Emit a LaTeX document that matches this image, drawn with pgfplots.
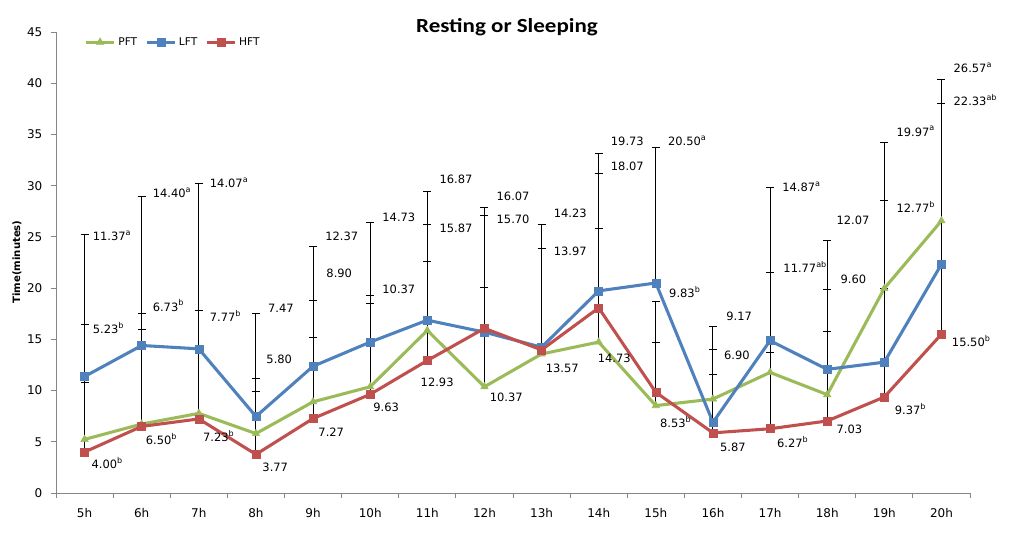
\documentclass[border=0pt]{standalone}
\usepackage{fontspec}
\setmainfont{DejaVu Sans}
\newfontfamily\titlefont{Carlito}
\usepackage{pgfplots}
\usepackage{pgfplotstable}
\pgfplotsset{compat=1.18}
\definecolor{pft}{HTML}{9BBB59}
\definecolor{lft}{HTML}{4F81BD}
\definecolor{hft}{HTML}{C0504D}
\definecolor{axgray}{HTML}{868686}
\tikzset{lab/.style={anchor=west, inner sep=0pt, font=\fontsize{8.6}{10}\selectfont}}

\pgfplotstableread{
x P Pe L Le H He
0 5.23 11.17 11.37 13.83 4.00 6.80
1 6.73 10.77 14.40 14.50 6.50 9.50
2 7.77 10.03 14.07 16.13 7.23 6.77
3 5.80 5.40 7.47 10.03 3.77 6.13
4 8.90 9.90 12.37 11.73 7.27 7.93
5 10.37 8.93 14.73 11.67 9.63 8.87
6 15.87 10.33 16.87 12.53 12.93 9.67
7 10.37 9.73 15.70 11.40 16.07 11.83
8 13.57 0.63 14.23 11.97 13.97 9.93
9 14.73 11.07 19.73 13.37 18.07 13.13
10 8.53 6.17 20.50 13.20 9.83 8.87
11 9.17 7.13 6.90 7.10 5.87 5.73
12 11.77 9.73 14.87 14.93 6.27 7.43
13 9.60 10.30 12.07 12.53 7.03 8.77
14 19.97 14.23 12.77 15.83 9.37 10.63
15 26.57 13.83 22.33 15.67 15.50 6.83
}\data

\begin{document}
\begin{tikzpicture}
\useasboundingbox (-42pt,-30.75pt) rectangle (718.5pt,369.75pt);
\begin{axis}[
  scale only axis, width=685.5pt, height=345.75pt,
  at={(0,0)}, anchor=south west,
  xmin=-0.5, xmax=15.5, ymin=0, ymax=45,
  axis x line*=bottom, axis y line*=left,
  axis line style={-, axgray, line width=0.7pt},
  every tick/.style={axgray, line width=0.7pt},
  tick align=outside, major tick length=3.75pt,
  xtick={-0.5,0.5,...,15.5},
  x tick label as interval,
  xticklabels={5h,6h,7h,8h,9h,10h,11h,12h,13h,14h,15h,16h,17h,18h,19h,20h},
  ytick={0,5,...,45},
  tick label style={font=\fontsize{9}{10}\selectfont},
  /pgf/number format/assume math mode=true,
  xticklabel style={yshift=-4pt},
  yticklabel style={xshift=-3pt},
  ylabel={Time(minutes)},
  ylabel style={font=\bfseries\fontsize{7.6}{9}\selectfont, at={(axis description cs:-0.0427,0.501)}, anchor=center},
  clip=false,
  legend style={at={(axis description cs:0.031,0.978)}, anchor=west, draw=none, fill=none,
    font=\fontsize{8}{9}\selectfont, inner sep=0pt,
    /tikz/every even column/.append style={column sep=4pt}},
  legend columns=3,
  legend image code/.code={\draw[mark repeat=2, mark phase=2] plot coordinates {(0pt,0pt)(10.5pt,0pt)(21pt,0pt)};},
  every axis plot/.append style={line width=2.3pt},
]
\addplot[pft, mark=triangle*, mark size=3.2pt, mark options={solid, line width=0.4pt},
  error bars/.cd, y dir=plus, y explicit,
  error bar style={black, line width=0.75pt},
  error mark options={black, rotate=90, line width=0.75pt, mark size=3pt}]
  table[x=x, y=P, y error=Pe] {\data};
\addplot[lft, mark=square*, mark size=3pt, mark options={solid, line width=0.4pt},
  error bars/.cd, y dir=plus, y explicit,
  error bar style={black, line width=0.75pt},
  error mark options={black, rotate=90, line width=0.75pt, mark size=3pt}]
  table[x=x, y=L, y error=Le] {\data};
\addplot[hft, mark=square*, mark size=3pt, mark options={solid, line width=0.4pt},
  error bars/.cd, y dir=plus, y explicit,
  error bar style={black, line width=0.75pt},
  error mark options={black, rotate=90, line width=0.75pt, mark size=3pt}]
  table[x=x, y=H, y error=He] {\data};
\legend{PFT,LFT,HFT}

\node[font=\titlefont\bfseries\fontsize{15}{18}\selectfont] at (axis description cs:0.4934,1.0098) {\scalebox{1.15}[1]{Resting or Sleeping}};

\node[lab] at (axis cs:0.14,25.1) {11.37\textsuperscript{a}};
\node[lab] at (axis cs:0.14,16.1) {5.23\textsuperscript{b}};
\node[lab] at (axis cs:0.12,2.9) {4.00\textsuperscript{b}};
\node[lab] at (axis cs:1.19,29.3) {14.40\textsuperscript{a}};
\node[lab] at (axis cs:1.19,18.3) {6.73\textsuperscript{b}};
\node[lab] at (axis cs:1.07,5.3) {6.50\textsuperscript{b}};
\node[lab] at (axis cs:2.19,30.3) {14.07\textsuperscript{a}};
\node[lab] at (axis cs:2.19,17.3) {7.77\textsuperscript{b}};
\node[lab] at (axis cs:2.07,5.6) {7.23\textsuperscript{b}};
\node[lab] at (axis cs:3.21,18.0) {7.47};
\node[lab] at (axis cs:3.18,13.0) {5.80};
\node[lab] at (axis cs:3.11,2.5) {3.77};
\node[lab] at (axis cs:4.21,25.1) {12.37};
\node[lab] at (axis cs:4.23,21.4) {8.90};
\node[lab] at (axis cs:4.09,5.9) {7.27};
\node[lab] at (axis cs:5.21,26.9) {14.73};
\node[lab] at (axis cs:5.21,19.9) {10.37};
\node[lab] at (axis cs:5.05,8.4) {9.63};
\node[lab] at (axis cs:6.21,30.6) {16.87};
\node[lab] at (axis cs:6.21,25.8) {15.87};
\node[lab] at (axis cs:5.88,10.8) {12.93};
\node[lab] at (axis cs:7.21,29.0) {16.07};
\node[lab] at (axis cs:7.21,26.7) {15.70};
\node[lab] at (axis cs:7.09,9.3) {10.37};
\node[lab] at (axis cs:8.21,27.3) {14.23};
\node[lab] at (axis cs:8.21,23.6) {13.97};
\node[lab] at (axis cs:8.07,12.2) {13.57};
\node[lab] at (axis cs:9.21,34.3) {19.73};
\node[lab] at (axis cs:9.21,31.9) {18.07};
\node[lab] at (axis cs:8.98,13.1) {14.73};
\node[lab] at (axis cs:10.21,34.4) {20.50\textsuperscript{a}};
\node[lab] at (axis cs:10.23,19.6) {9.83\textsuperscript{b}};
\node[lab] at (axis cs:10.07,6.9) {8.53\textsuperscript{b}};
\node[lab] at (axis cs:11.23,17.2) {9.17};
\node[lab] at (axis cs:11.19,13.4) {6.90};
\node[lab] at (axis cs:11.12,4.5) {5.87};
\node[lab] at (axis cs:12.21,29.9) {14.87\textsuperscript{a}};
\node[lab] at (axis cs:12.23,22.1) {11.77\textsuperscript{ab}};
\node[lab] at (axis cs:12.12,5.0) {6.27\textsuperscript{b}};
\node[lab] at (axis cs:13.16,26.6) {12.07};
\node[lab] at (axis cs:13.23,20.9) {9.60};
\node[lab] at (axis cs:13.16,6.2) {7.03};
\node[lab] at (axis cs:14.21,35.3) {19.97\textsuperscript{a}};
\node[lab] at (axis cs:14.21,27.9) {12.77\textsuperscript{b}};
\node[lab] at (axis cs:14.18,8.2) {9.37\textsuperscript{b}};
\node[lab] at (axis cs:15.21,41.5) {26.57\textsuperscript{a}};
\node[lab] at (axis cs:15.21,38.4) {22.33\textsuperscript{ab}};
\node[lab] at (axis cs:15.18,14.8) {15.50\textsuperscript{b}};
\end{axis}
\end{tikzpicture}
\end{document}
